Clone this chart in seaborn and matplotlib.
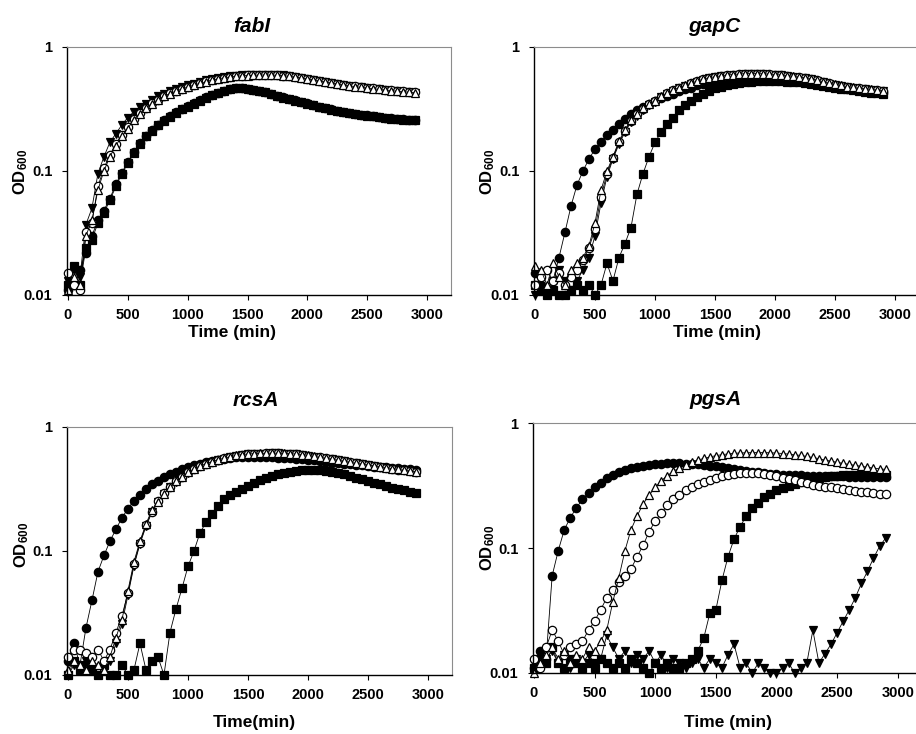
import matplotlib
matplotlib.use("Agg")
import matplotlib.pyplot as plt
from matplotlib.ticker import NullLocator
import seaborn as sns
import pandas as pd

sns.set_theme(style="white")
plt.rcParams['font.family'] = ['Liberation Sans', 'DejaVu Sans']
plt.rcParams['font.weight'] = 'bold'
plt.rcParams['mathtext.fontset'] = 'custom'
plt.rcParams['mathtext.rm'] = 'Liberation Sans:bold'
plt.rcParams['mathtext.bf'] = 'Liberation Sans:bold'
plt.rcParams['mathtext.it'] = 'Liberation Sans:bold:italic'

# ---------------- data (OD600 readings every 50 min) ----------------
time_min = list(range(0, 2901, 50))

fabI_fc = [0.011, 0.012, 0.016, 0.022, 0.03, 0.04, 0.048, 0.06, 0.078, 0.097,
           0.118, 0.142, 0.168, 0.192, 0.213, 0.237, 0.257, 0.277, 0.297, 0.316,
           0.332, 0.352, 0.372, 0.392, 0.41, 0.427, 0.442, 0.456, 0.466, 0.466,
           0.461, 0.452, 0.442, 0.431, 0.417, 0.403, 0.392, 0.381, 0.371, 0.361,
           0.351, 0.341, 0.331, 0.322, 0.314, 0.306, 0.299, 0.293, 0.289, 0.285,
           0.281, 0.277, 0.273, 0.269, 0.266, 0.263, 0.261, 0.259, 0.257]
fabI_sq = [0.012, 0.017, 0.012, 0.024, 0.028, 0.038, 0.046, 0.058, 0.075, 0.095,
           0.115, 0.14, 0.165, 0.19, 0.21, 0.235, 0.255, 0.275, 0.295, 0.315,
           0.33, 0.35, 0.37, 0.39, 0.41, 0.425, 0.44, 0.455, 0.465, 0.465,
           0.46, 0.45, 0.44, 0.43, 0.415, 0.40, 0.39, 0.38, 0.37, 0.36,
           0.35, 0.34, 0.33, 0.32, 0.312, 0.305, 0.298, 0.292, 0.288, 0.284,
           0.28, 0.276, 0.272, 0.268, 0.265, 0.262, 0.26, 0.258, 0.256]
fabI_dt = [0.013, 0.016, 0.014, 0.037, 0.05, 0.095, 0.13, 0.17, 0.2, 0.235,
           0.27, 0.3, 0.33, 0.35, 0.375, 0.40, 0.42, 0.44, 0.46, 0.475,
           0.49, 0.505, 0.52, 0.54, 0.555, 0.565, 0.575, 0.582, 0.588, 0.592,
           0.595, 0.597, 0.6, 0.6, 0.598, 0.595, 0.59, 0.582, 0.575, 0.565,
           0.555, 0.545, 0.535, 0.525, 0.515, 0.505, 0.495, 0.488, 0.48, 0.475,
           0.468, 0.462, 0.456, 0.45, 0.445, 0.44, 0.435, 0.43, 0.425]
fabI_oc = [0.015, 0.012, 0.011, 0.032, 0.038, 0.075, 0.105, 0.135, 0.165, 0.195,
           0.225, 0.262, 0.292, 0.322, 0.352, 0.377, 0.402, 0.422, 0.442, 0.46,
           0.477, 0.494, 0.51, 0.527, 0.542, 0.554, 0.565, 0.574, 0.582, 0.587,
           0.591, 0.594, 0.596, 0.597, 0.596, 0.593, 0.589, 0.582, 0.574, 0.565,
           0.555, 0.545, 0.535, 0.525, 0.515, 0.505, 0.496, 0.488, 0.481, 0.475,
           0.469, 0.463, 0.457, 0.452, 0.447, 0.442, 0.438, 0.434, 0.43]
fabI_ut = [0.011, 0.014, 0.012, 0.03, 0.04, 0.07, 0.1, 0.13, 0.16, 0.19,
           0.22, 0.26, 0.29, 0.32, 0.35, 0.375, 0.40, 0.42, 0.44, 0.458,
           0.475, 0.492, 0.508, 0.525, 0.54, 0.552, 0.563, 0.572, 0.58, 0.585,
           0.589, 0.592, 0.594, 0.595, 0.594, 0.591, 0.587, 0.58, 0.572, 0.563,
           0.553, 0.543, 0.533, 0.523, 0.513, 0.503, 0.494, 0.486, 0.479, 0.473,
           0.467, 0.461, 0.455, 0.45, 0.445, 0.44, 0.436, 0.432, 0.428]

gapC_fc = [0.015, 0.012, 0.011, 0.013, 0.02, 0.032, 0.052, 0.077, 0.1, 0.125,
           0.15, 0.172, 0.195, 0.215, 0.24, 0.265, 0.29, 0.31, 0.33, 0.35,
           0.365, 0.385, 0.40, 0.42, 0.44, 0.455, 0.47, 0.49, 0.505, 0.515,
           0.525, 0.535, 0.54, 0.545, 0.55, 0.55, 0.552, 0.552, 0.55, 0.55,
           0.548, 0.545, 0.54, 0.535, 0.53, 0.525, 0.52, 0.51, 0.5, 0.49,
           0.48, 0.47, 0.462, 0.455, 0.448, 0.442, 0.436, 0.43, 0.425]
gapC_sq = [0.012, 0.011, 0.010, 0.011, 0.010, 0.010, 0.011, 0.012, 0.011, 0.012,
           0.010, 0.012, 0.018, 0.013, 0.02, 0.026, 0.035, 0.065, 0.095, 0.13,
           0.17, 0.205, 0.24, 0.27, 0.31, 0.34, 0.37, 0.395, 0.42, 0.445,
           0.465, 0.48, 0.495, 0.505, 0.515, 0.52, 0.525, 0.528, 0.53, 0.53,
           0.53, 0.528, 0.525, 0.522, 0.518, 0.512, 0.505, 0.497, 0.488, 0.48,
           0.47, 0.462, 0.455, 0.448, 0.44, 0.434, 0.428, 0.422, 0.418]
gapC_dt = [0.010, 0.011, 0.010, 0.013, 0.016, 0.013, 0.011, 0.013, 0.016, 0.02,
           0.03, 0.055, 0.09, 0.125, 0.165, 0.205, 0.25, 0.28, 0.31, 0.338,
           0.363, 0.393, 0.418, 0.443, 0.465, 0.485, 0.505, 0.525, 0.543, 0.558,
           0.57, 0.58, 0.589, 0.595, 0.6, 0.604, 0.605, 0.605, 0.603, 0.6,
           0.595, 0.59, 0.583, 0.575, 0.567, 0.56, 0.55, 0.535, 0.52, 0.506,
           0.495, 0.485, 0.476, 0.468, 0.461, 0.455, 0.45, 0.445, 0.44]
gapC_oc = [0.012, 0.014, 0.016, 0.013, 0.015, 0.012, 0.014, 0.016, 0.019, 0.024,
           0.034, 0.062, 0.095, 0.128, 0.17, 0.21, 0.255, 0.287, 0.318, 0.344,
           0.369, 0.398, 0.423, 0.448, 0.468, 0.488, 0.508, 0.528, 0.547, 0.562,
           0.573, 0.583, 0.592, 0.598, 0.603, 0.607, 0.608, 0.608, 0.606, 0.603,
           0.598, 0.592, 0.585, 0.577, 0.569, 0.561, 0.551, 0.537, 0.522, 0.508,
           0.497, 0.487, 0.478, 0.47, 0.463, 0.457, 0.452, 0.447, 0.442]
gapC_ut = [0.017, 0.016, 0.012, 0.018, 0.014, 0.012, 0.016, 0.018, 0.02, 0.025,
           0.038, 0.07, 0.1, 0.13, 0.175, 0.215, 0.26, 0.29, 0.32, 0.345,
           0.37, 0.4, 0.425, 0.45, 0.47, 0.49, 0.51, 0.53, 0.55, 0.565,
           0.575, 0.585, 0.595, 0.6, 0.605, 0.61, 0.61, 0.61, 0.608, 0.605,
           0.6, 0.595, 0.588, 0.58, 0.572, 0.565, 0.555, 0.54, 0.525, 0.51,
           0.5, 0.49, 0.48, 0.472, 0.465, 0.46, 0.455, 0.45, 0.445]

rcsA_fc = [0.013, 0.018, 0.012, 0.024, 0.04, 0.068, 0.092, 0.12, 0.15, 0.185,
           0.22, 0.255, 0.285, 0.315, 0.345, 0.37, 0.395, 0.415, 0.435, 0.455,
           0.475, 0.49, 0.505, 0.52, 0.535, 0.545, 0.555, 0.565, 0.572, 0.575,
           0.575, 0.575, 0.575, 0.572, 0.57, 0.566, 0.562, 0.558, 0.554, 0.55,
           0.545, 0.538, 0.53, 0.522, 0.515, 0.51, 0.505, 0.5, 0.495, 0.49,
           0.485, 0.48, 0.476, 0.472, 0.468, 0.464, 0.46, 0.456, 0.452]
rcsA_sq = [0.010, 0.013, 0.011, 0.012, 0.011, 0.010, 0.012, 0.010, 0.010, 0.012,
           0.010, 0.011, 0.018, 0.011, 0.013, 0.014, 0.010, 0.022, 0.034, 0.05,
           0.075, 0.1, 0.14, 0.17, 0.2, 0.23, 0.265, 0.285, 0.3, 0.315,
           0.335, 0.355, 0.375, 0.39, 0.405, 0.418, 0.428, 0.436, 0.442, 0.447,
           0.45, 0.45, 0.447, 0.442, 0.435, 0.425, 0.415, 0.403, 0.39, 0.378,
           0.366, 0.355, 0.345, 0.335, 0.325, 0.316, 0.308, 0.3, 0.294]
rcsA_dt = [0.010, 0.012, 0.011, 0.013, 0.011, 0.010, 0.012, 0.013, 0.018, 0.026,
           0.044, 0.076, 0.114, 0.158, 0.205, 0.248, 0.288, 0.328, 0.363, 0.393,
           0.428, 0.457, 0.482, 0.503, 0.523, 0.542, 0.557, 0.572, 0.586, 0.596,
           0.602, 0.607, 0.609, 0.611, 0.612, 0.612, 0.609, 0.606, 0.602, 0.596,
           0.587, 0.577, 0.567, 0.557, 0.547, 0.537, 0.527, 0.517, 0.508, 0.5,
           0.492, 0.484, 0.476, 0.468, 0.46, 0.453, 0.446, 0.44, 0.434]
rcsA_oc = [0.014, 0.016, 0.016, 0.015, 0.014, 0.016, 0.013, 0.016, 0.022, 0.03,
           0.046, 0.078, 0.117, 0.162, 0.208, 0.252, 0.292, 0.331, 0.366, 0.396,
           0.43, 0.459, 0.484, 0.504, 0.524, 0.543, 0.558, 0.573, 0.587, 0.597,
           0.603, 0.608, 0.61, 0.612, 0.613, 0.613, 0.61, 0.607, 0.603, 0.597,
           0.588, 0.578, 0.568, 0.558, 0.548, 0.538, 0.528, 0.518, 0.508, 0.5,
           0.492, 0.484, 0.476, 0.468, 0.46, 0.453, 0.447, 0.441, 0.435]
rcsA_ut = [0.011, 0.013, 0.012, 0.011, 0.013, 0.012, 0.011, 0.014, 0.02, 0.028,
           0.048, 0.082, 0.12, 0.165, 0.215, 0.25, 0.29, 0.33, 0.365, 0.395,
           0.43, 0.46, 0.485, 0.505, 0.525, 0.545, 0.56, 0.575, 0.59, 0.6,
           0.605, 0.61, 0.612, 0.614, 0.615, 0.615, 0.612, 0.61, 0.605, 0.6,
           0.59, 0.58, 0.57, 0.56, 0.55, 0.54, 0.53, 0.52, 0.51, 0.502,
           0.494, 0.486, 0.478, 0.47, 0.462, 0.455, 0.448, 0.442, 0.436]

pgsA_fc = [0.011, 0.015, 0.013, 0.06, 0.095, 0.14, 0.175, 0.21, 0.245, 0.275,
           0.305, 0.33, 0.36, 0.385, 0.405, 0.42, 0.435, 0.447, 0.457, 0.465,
           0.47, 0.473, 0.475, 0.475, 0.475, 0.474, 0.472, 0.468, 0.463, 0.457,
           0.45, 0.443, 0.436, 0.428, 0.42, 0.413, 0.407, 0.402, 0.398, 0.394,
           0.39, 0.387, 0.385, 0.383, 0.381, 0.38, 0.378, 0.377, 0.376, 0.375,
           0.374, 0.374, 0.373, 0.372, 0.372, 0.371, 0.37, 0.37, 0.369]
pgsA_sq = [0.011, 0.013, 0.012, 0.016, 0.012, 0.011, 0.013, 0.012, 0.011, 0.012,
           0.011, 0.013, 0.012, 0.011, 0.012, 0.011, 0.013, 0.012, 0.011, 0.010,
           0.012, 0.011, 0.012, 0.011, 0.011, 0.012, 0.013, 0.015, 0.019, 0.03,
           0.032, 0.055, 0.085, 0.118, 0.148, 0.18, 0.208, 0.23, 0.255, 0.27,
           0.29, 0.302, 0.315, 0.327, 0.338, 0.35, 0.358, 0.365, 0.372, 0.376,
           0.38, 0.383, 0.385, 0.386, 0.387, 0.387, 0.387, 0.386, 0.386]
pgsA_dt = [0.012, 0.011, 0.013, 0.015, 0.012, 0.014, 0.011, 0.013, 0.012, 0.014,
           0.012, 0.013, 0.02, 0.016, 0.013, 0.015, 0.012, 0.014, 0.013, 0.015,
           0.012, 0.014, 0.011, 0.013, 0.012, 0.011, 0.012, 0.013, 0.011, 0.013,
           0.012, 0.011, 0.014, 0.017, 0.011, 0.012, 0.010, 0.012, 0.011, 0.010,
           0.010, 0.011, 0.012, 0.010, 0.011, 0.012, 0.022, 0.012, 0.0143, 0.017,
           0.021, 0.026, 0.032, 0.04, 0.052, 0.065, 0.083, 0.103, 0.12]
pgsA_oc = [0.013, 0.011, 0.016, 0.022, 0.018, 0.014, 0.016, 0.017, 0.018, 0.022,
           0.026, 0.032, 0.04, 0.046, 0.053, 0.06, 0.068, 0.085, 0.105, 0.135,
           0.165, 0.19, 0.22, 0.245, 0.267, 0.29, 0.31, 0.325, 0.34, 0.352,
           0.365, 0.378, 0.386, 0.392, 0.396, 0.398, 0.398, 0.397, 0.393, 0.385,
           0.375, 0.365, 0.355, 0.347, 0.338, 0.33, 0.322, 0.315, 0.31, 0.305,
           0.3, 0.295, 0.29, 0.286, 0.282, 0.278, 0.275, 0.272, 0.268]
pgsA_ut = [0.010, 0.012, 0.014, 0.016, 0.013, 0.015, 0.012, 0.014, 0.013, 0.016,
           0.015, 0.018, 0.022, 0.037, 0.058, 0.095, 0.14, 0.18, 0.225, 0.265,
           0.305, 0.345, 0.38, 0.41, 0.44, 0.465, 0.485, 0.505, 0.52, 0.535,
           0.548, 0.558, 0.566, 0.572, 0.576, 0.578, 0.58, 0.58, 0.58, 0.578,
           0.575, 0.57, 0.564, 0.557, 0.55, 0.54, 0.53, 0.518, 0.505, 0.495,
           0.485, 0.475, 0.466, 0.458, 0.45, 0.443, 0.436, 0.43, 0.425]

genes = ["fabI", "gapC", "rcsA", "pgsA"]
series_names = ["fc", "sq", "dt", "oc", "ut"]
xlabels = ["Time (min)", "Time (min)", "Time(min)", "Time (min)"]
y_ticks = [0.01, 0.1, 1]
y_ticklabels = ["0.01", "0.1", "1"]
x_ticks = [0, 500, 1000, 1500, 2000, 2500, 3000]

data = {
    "fabI": dict(fc=fabI_fc, sq=fabI_sq, dt=fabI_dt, oc=fabI_oc, ut=fabI_ut),
    "gapC": dict(fc=gapC_fc, sq=gapC_sq, dt=gapC_dt, oc=gapC_oc, ut=gapC_ut),
    "rcsA": dict(fc=rcsA_fc, sq=rcsA_sq, dt=rcsA_dt, oc=rcsA_oc, ut=rcsA_ut),
    "pgsA": dict(fc=pgsA_fc, sq=pgsA_sq, dt=pgsA_dt, oc=pgsA_oc, ut=pgsA_ut),
}

rows = []
for g in genes:
    for s in series_names:
        for t, v in zip(time_min, data[g][s]):
            rows.append((g, s, t, v))
df = pd.DataFrame(rows, columns=["gene", "series", "time", "od"])

marker_style = {
    "fc": ("o", "black"),
    "sq": ("s", "black"),
    "dt": ("v", "black"),
    "oc": ("o", "white"),
    "ut": ("^", "white"),
}

W, H = 916, 734
fig = plt.figure(figsize=(W / 100, H / 100), dpi=100)

# axes boxes in pixels: left, top, right, bottom
boxes = {
    "fabI": (67, 47, 451, 295),
    "gapC": (534, 47, 919, 295),
    "rcsA": (67, 427, 452, 675),
    "pgsA": (533, 423, 922, 673),
}
titles_pos = {"fabI": (252, 32), "gapC": (714, 32), "rcsA": (256, 406), "pgsA": (716, 405)}
xlabel_pos = {"fabI": (232, 332), "gapC": (717, 332), "rcsA": (254, 722), "pgsA": (728, 722)}
ylabel_pos = {"fabI": (21, 172), "gapC": (488, 172), "rcsA": (22, 545), "pgsA": (488, 548)}

for g, xl in zip(genes, xlabels):
    l, t, r, b = boxes[g]
    ax = fig.add_axes([l / W, 1 - b / H, (r - l) / W, (b - t) / H])
    sub = df[df["gene"] == g]
    for s in series_names:
        m, fcol = marker_style[s]
        d = sub[sub["series"] == s]
        sns.lineplot(data=d, x="time", y="od", ax=ax, color="black",
                     linewidth=0.6, marker=m, markersize=6.0,
                     markerfacecolor=fcol, markeredgecolor="black",
                     markeredgewidth=0.9, estimator=None, sort=False,
                     clip_on=False)
    ax.set_yscale("log")
    ax.set_ylim(0.01, 1)
    ax.set_xlim(-8, 3200)
    ax.set_yticks(y_ticks)
    ax.set_yticklabels(y_ticklabels)
    ax.yaxis.set_minor_locator(NullLocator())
    ax.set_xticks(x_ticks)
    ax.set_xticklabels([str(v) for v in x_ticks])
    ax.set_xlabel("")
    ax.set_ylabel("")
    ax.tick_params(axis="both", which="major", direction="out", length=3.5,
                   width=0.8, color="black", labelsize=10.5, labelcolor="black",
                   bottom=True, left=True, top=False, right=False)
    ax.tick_params(axis="y", pad=7)
    ax.tick_params(axis="x", pad=6)
    for lab in ax.get_xticklabels() + ax.get_yticklabels():
        lab.set_fontweight("bold")
    ax.spines["left"].set_color("black")
    ax.spines["bottom"].set_color("black")
    ax.spines["left"].set_linewidth(1.0)
    ax.spines["bottom"].set_linewidth(1.0)
    ax.spines["top"].set_color("#8c8c8c")
    ax.spines["right"].set_color("#8c8c8c")
    ax.spines["top"].set_linewidth(0.8)
    ax.spines["right"].set_linewidth(0.8)
    ax.set_facecolor("white")
    ax.grid(False)

    tx, ty = titles_pos[g]
    fig.text(tx / W, 1 - ty / H, g, ha="center", va="baseline", fontsize=15,
             fontweight="bold", fontstyle="italic", color="black")
    lx, ly = xlabel_pos[g]
    fig.text(lx / W, 1 - ly / H, xl, ha="center", va="center", fontsize=12.5,
             fontweight="bold", color="black")
    yx, yy = ylabel_pos[g]
    fig.text(yx / W, 1 - yy / H, r"$\mathbf{OD}_{\mathbf{600}}$", ha="center",
             va="center", rotation=90, fontsize=12, color="black")

fig.savefig("out.png", dpi=100, facecolor="white")
